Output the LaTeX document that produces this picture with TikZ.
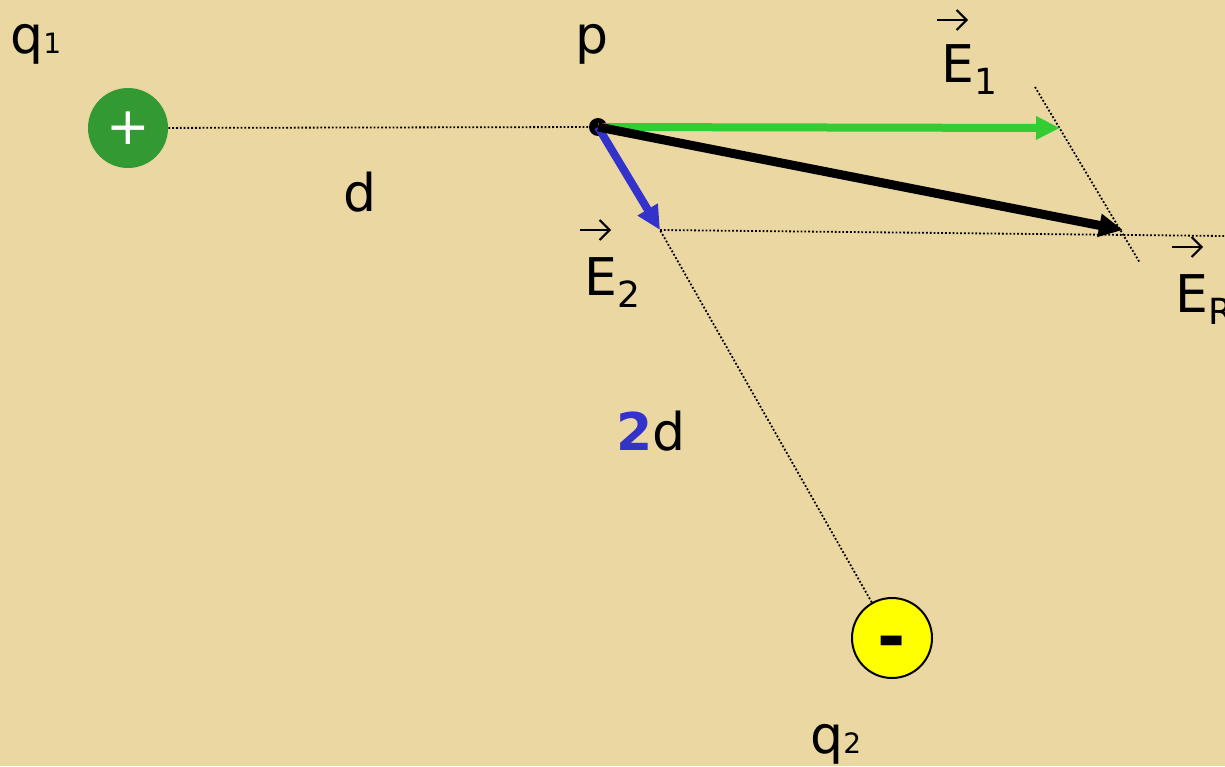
\documentclass[tikz,border=0pt]{standalone}
\usepackage{fontspec}
\setmainfont{DejaVu Sans}
\definecolor{Papyrus}{HTML}{EBD7A2}
\definecolor{ChargeGreen}{HTML}{339933}
\definecolor{FieldGreen}{HTML}{33CC33}
\definecolor{FieldBlue}{HTML}{3333CC}
\definecolor{ChargeYellow}{HTML}{FFFF00}
\usetikzlibrary{arrows.meta}

% E with its subscript below the baseline
\newcommand{\vecE}[1]{E\raisebox{-6pt}{\fontsize{18}{20}\selectfont #1}}
\newcommand{\qsub}[1]{q{\fontsize{14}{16}\selectfont #1}}

\begin{document}
\begin{tikzpicture}[
  x=0.5pt, y=-0.5pt,
  lbl/.style={inner sep=0, anchor=base west, font=\fontsize{26}{31}\selectfont},
  charge/.style={circle, inner sep=0, minimum size=40pt, font=\fontsize{26}{31}\selectfont},
  poscharge/.style={charge, fill=ChargeGreen, text=white},
  negcharge/.style={charge, draw=black, line width=1pt, fill=ChargeYellow, font=\fontsize{34}{40}\selectfont\bfseries},
  field/.style={line width=4pt, -{Triangle[length=12pt,width=11pt]}},
  vecbar/.style={line width=1pt, -{Straight Barb[length=5pt,width=10pt]}},
  guide/.style={line width=0.9pt, dash pattern=on 0.9pt off 1pt}
]
  % background
  \fill[Papyrus] (0,0) rectangle (1225,766);
  \useasboundingbox (0,0) rectangle (1225,766);

  % charges and field point
  \node[poscharge] (q1) at (128,128) {+};
  \node[negcharge] (q2) at (892,638) {\raisebox{-11pt}[0pt][0pt]{-}};
  \node[circle, fill=black, inner sep=0, minimum size=9pt] (p) at (598,127) {};

  % vector tips and helper ends
  \coordinate (E1tip) at (1060,128);
  \coordinate (E2tip) at (660,230);
  \coordinate (ERtip) at (1123,230);
  \coordinate (par1) at (1035,87);
  \coordinate (par2) at (1140,263);
  \coordinate (hend) at (1225,236);

  % guide lines
  \draw[guide] (q1) -- (p);
  \draw[guide] (q2) -- (E2tip);
  \draw[guide] (E2tip) -- (hend);
  \draw[guide] (par1) -- (par2);

  % field vectors
  \draw[field, FieldGreen] (p.center) -- (E1tip);
  \draw[field, FieldBlue] (p.center) -- (E2tip);
  \draw[field, black, line width=4.5pt] (p.center) -- (ERtip);

  % labels
  \node[lbl] (q1lbl) at (10,53) {\qsub{1}};
  \node[lbl] (plbl) at (575,53) {p};
  \node[lbl] (dlbl) at (343,211) {d};
  \node[lbl] (ddlbl) at (616,450) {\textcolor{FieldBlue}{\bfseries 2}d};
  \node[lbl] (E1lbl) at (941,82) {\vecE{1}};
  \node[lbl] (E2lbl) at (584,295) {\vecE{2}};
  \node[lbl] (ERlbl) at (1175,312) {\vecE{R}};
  \node[lbl] (q2lbl) at (810,753) {\qsub{2}};

  % vector arrows over the E labels
  \draw[vecbar] ([xshift=-2pt, yshift=31pt]E1lbl.base west) -- ++(31,0);
  \draw[vecbar] ([xshift=-2pt, yshift=32.5pt]E2lbl.base west) -- ++(31,0);
  \draw[vecbar] ([xshift=-1.5pt, yshift=32.5pt]ERlbl.base west) -- ++(31,0);
\end{tikzpicture}
\end{document}
